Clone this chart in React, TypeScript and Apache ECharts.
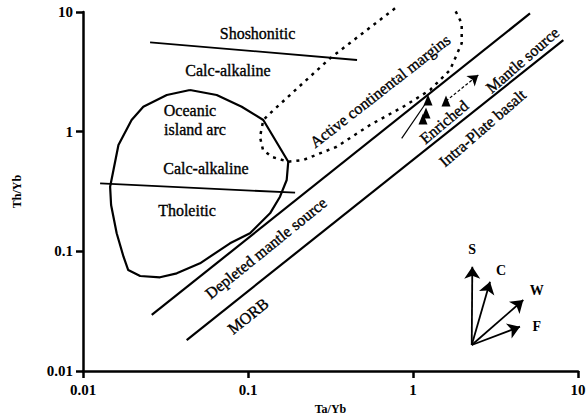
import React, { useEffect, useRef } from "react";
import * as echarts from "echarts";

// Log-log Th/Yb vs Ta/Yb discrimination diagram
const xTickLabels = ["0.01", "0.1", "1", "10"];
const yTickLabels = ["0.01", "0.1", "1", "10"];

// Shoshonitic / calc-alkaline boundary
const shoshoniticDivide: [number, number][] = [
  [0.0255, 5.58],
  [0.458, 3.97],
];
// Calc-alkaline / tholeiitic boundary
const tholeiiticDivide: [number, number][] = [
  [0.0127, 0.37],
  [0.193, 0.309],
];
// Oceanic island arc field outline
const oceanicArcField: [number, number][] = [
  [0.0445, 2.229],
  [0.0646, 2.024],
  [0.0916, 1.617],
  [0.1238, 1.251],
  [0.1754, 0.561],
  [0.1716, 0.3945],
  [0.1563, 0.2861],
  [0.136, 0.2078],
  [0.1028, 0.1415],
  [0.0778, 0.1167],
  [0.0512, 0.0794],
  [0.037, 0.0655],
  [0.0293, 0.0607],
  [0.0222, 0.0622],
  [0.0188, 0.0698],
  [0.0176, 0.0902],
  [0.016, 0.1415],
  [0.0148, 0.2439],
  [0.0146, 0.3467],
  [0.0153, 0.478],
  [0.0164, 0.7736],
  [0.0197, 1.251],
  [0.0232, 1.617],
  [0.0322, 2.024],
  [0.0445, 2.229],
];
// Active continental margins field (dotted)
const activeMarginsField: [number, number][] = [
  [0.778, 10.73],
  [0.3141, 4.1],
  [0.136, 1.423],
  [0.1238, 1.251],
  [0.1182, 0.9024],
  [0.1233, 0.7028],
  [0.1398, 0.6143],
  [0.1754, 0.561],
  [0.2163, 0.5799],
  [0.3448, 0.7485],
  [0.5488, 1.137],
  [0.8733, 1.617],
  [1.268, 2.229],
  [1.675, 3.275],
  [1.973, 5.475],
  [1.973, 8.046],
  [1.797, 10.39],
];
// Mantle array boundaries
const arrayUpper: [number, number][] = [
  [0.0261, 0.0294],
  [5.12, 9.73],
];
const arrayLower: [number, number][] = [
  [0.0425, 0.01815],
  [8.15, 5.82],
];
// Enrichment trend arrows
const enrichSolid: [number, number][] = [
  [0.854, 0.88],
  [1.233, 1.839],
];
const enrichDashed: [number, number][] = [
  [1.585, 1.804],
  [2.488, 2.975],
];
const enrichHeads: [number, number][] = [
  [1.233, 1.839],
  [1.585, 1.804],
  [1.15, 1.276],
  [1.199, 1.432],
];
// Process vectors S, C, W, F
const vectorOrigin: [number, number] = [2.27, 0.0165];
const vectorNames = ["S", "C", "W", "F"];
const vectorTips: [number, number][] = [
  [2.288, 0.0744],
  [2.929, 0.0557],
  [4.661, 0.0392],
  [4.451, 0.02346],
];
const vectorLabelPos: [number, number][] = [
  [2.279, 0.1026],
  [3.415, 0.0689],
  [5.62, 0.0475],
  [5.62, 0.02377],
];
// Field names: text, position, rotation
const fieldNames = [
  "Shoshonitic",
  "Calc-alkaline",
  "Oceanic",
  "island arc",
  "Calc-alkaline",
  "Tholeitic",
  "Depleted mantle source",
  "MORB",
  "Active continental margins",
  "Enriched",
  "Mantle source",
  "Intra-Plate basalt",
];
const fieldPos: [number, number][] = [
  [0.1142, 6.637],
  [0.0756, 3.275],
  [0.0445, 1.517],
  [0.0477, 1.052],
  [0.0556, 0.497],
  [0.0427, 0.2173],
  [0.1285, 0.1066],
  [0.1, 0.0288],
  [0.631, 2.187],
  [1.541, 1.204],
  [4.608, 3.97],
  [2.637, 1.073],
];
const fieldRotate = [0, 0, 0, 0, 0, 0, 39, 39, 38, 40, 41, 41];

const FONT = "'Liberation Serif', 'Times New Roman', serif";

function tickLabel(labels: string[]) {
  return (v: number) => labels[Math.round(Math.log10(v)) + 2] ?? "";
}

export default function App() {
  const ref = useRef<HTMLDivElement>(null);

  useEffect(() => {
    if (!ref.current) return;
    const chart = echarts.init(ref.current, null, { renderer: "svg" });

    const plainLine = (data: [number, number][], width: number) => ({
      type: "line",
      data,
      symbol: "none",
      silent: true,
      lineStyle: { color: "#000", width, opacity: 1 },
    });

    const textStyle = (size: number, bold: boolean) => ({
      color: "#000",
      opacity: 1,
      fontFamily: FONT,
      fontWeight: bold ? "bold" : "normal",
      fontSize: size,
    });

    const axisCommon = {
      type: "log",
      logBase: 10,
      min: 0.01,
      max: 10,
      nameLocation: "middle",
      splitLine: { show: false },
      axisLine: { show: true, lineStyle: { color: "#000", width: 2.5 } },
      axisTick: { show: true, length: 7, lineStyle: { color: "#000", width: 2.5 } },
      minorTick: { show: false },
      nameTextStyle: textStyle(12, true),
    };

    chart.setOption({
      animation: false,
      backgroundColor: "#fff",
      grid: {
        left: 83,
        right: 9,
        top: 12,
        bottom: 46,
        containLabel: false,
        outerBoundsMode: "none",
      },
      xAxis: {
        ...axisCommon,
        name: "Ta/Yb",
        nameGap: 32,
        axisLabel: { ...textStyle(15, true), margin: 11, formatter: tickLabel(xTickLabels) },
      },
      yAxis: {
        ...axisCommon,
        name: "Th/Yb",
        nameGap: 60,
        nameRotate: 90,
        axisLabel: { ...textStyle(15, true), margin: 10, formatter: tickLabel(yTickLabels) },
      },
      series: [
        plainLine(shoshoniticDivide, 1.8),
        plainLine(tholeiiticDivide, 1.8),
        plainLine(oceanicArcField, 2.2),
        {
          type: "line",
          data: activeMarginsField,
          symbol: "none",
          silent: true,
          clip: false,
          lineStyle: { color: "#000", width: 2.5, type: [3, 5], cap: "butt", opacity: 1 },
        },
        plainLine(arrayUpper, 2.2),
        plainLine(arrayLower, 2.2),
        plainLine(enrichSolid, 1.2),
        {
          type: "lines",
          coordinateSystem: "cartesian2d",
          silent: true,
          symbol: ["none", "arrow"],
          symbolSize: 10,
          lineStyle: { color: "#000", width: 1.2, type: [3, 2], opacity: 1 },
          data: [{ coords: enrichDashed }],
        },
        {
          type: "scatter",
          silent: true,
          symbol: "triangle",
          symbolSize: [9, 11],
          itemStyle: { color: "#000", opacity: 1 },
          data: enrichHeads,
        },
        {
          type: "lines",
          coordinateSystem: "cartesian2d",
          silent: true,
          symbol: ["none", "arrow"],
          symbolSize: 12,
          lineStyle: { color: "#000", width: 1.8, opacity: 1 },
          data: vectorTips.map((tip) => ({ coords: [vectorOrigin, tip] })),
        },
        {
          type: "scatter",
          silent: true,
          symbolSize: 0,
          itemStyle: { color: "#000", opacity: 1 },
          data: vectorNames.map((n, i) => ({ name: n, value: vectorLabelPos[i] })),
          label: { show: true, position: "inside", formatter: "{b}", ...textStyle(14, true) },
        },
        {
          type: "scatter",
          silent: true,
          symbolSize: 0,
          itemStyle: { color: "#000", opacity: 1 },
          data: fieldNames.map((n, i) => ({
            name: n,
            value: fieldPos[i],
            label: { rotate: fieldRotate[i] },
          })),
          label: {
            show: true,
            position: "inside",
            formatter: "{b}",
            ...textStyle(16, false),
            textBorderColor: "#000",
            textBorderWidth: 0.35,
          },
        },
      ],
    });

    return () => chart.dispose();
  }, []);

  return (
    <div
      ref={ref}
      style={{ position: "absolute", left: 0, top: 0, width: 587, height: 417 }}
    />
  );
}
